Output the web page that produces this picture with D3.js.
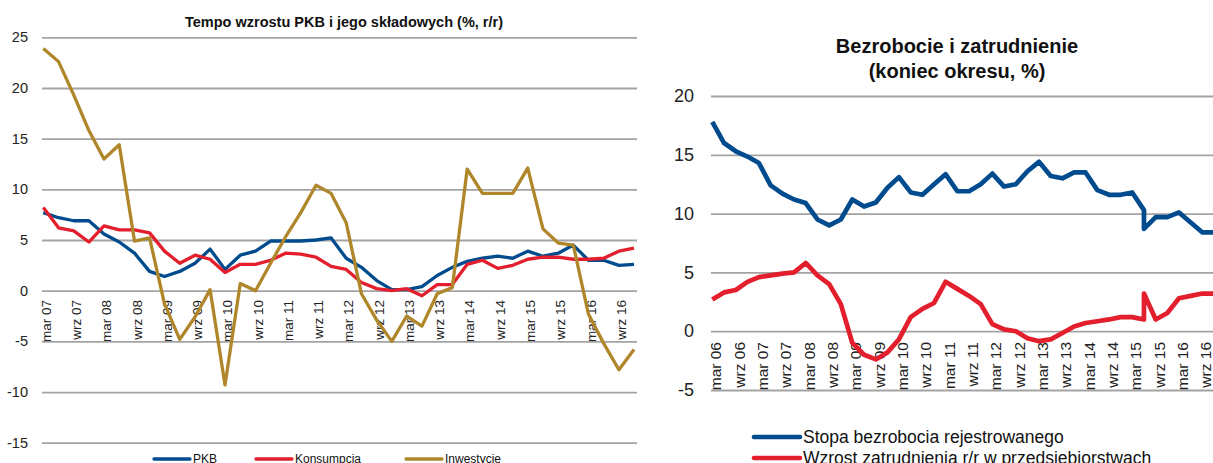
<!DOCTYPE html>
<html>
<head>
<meta charset="utf-8">
<script src="https://cdn.jsdelivr.net/npm/d3@7"></script>
<style>
  body { margin: 0; background: #fff; }
  svg { display: block; font-family: 'Liberation Sans', Arial, sans-serif; }
  .grid line { stroke: #a3a3a3; stroke-width: 1.8; }
  .grid text, .xlab text { fill: #222; }
</style>
</head>
<body>
<svg width="1213" height="463"></svg>
<script>
// --- left chart: GDP and its components, % y/y, quarterly
const gdpPeriods = ['2007-03','2007-06','2007-09','2007-12','2008-03','2008-06','2008-09','2008-12',
  '2009-03','2009-06','2009-09','2009-12','2010-03','2010-06','2010-09','2010-12',
  '2011-03','2011-06','2011-09','2011-12','2012-03','2012-06','2012-09','2012-12',
  '2013-03','2013-06','2013-09','2013-12','2014-03','2014-06','2014-09','2014-12',
  '2015-03','2015-06','2015-09','2015-12','2016-03','2016-06','2016-09','2016-12'];
const gdpLabels = ['mar 07','wrz 07','mar 08','wrz 08','mar 09','wrz 09','mar 10','wrz 10','mar 11','wrz 11',
  'mar 12','wrz 12','mar 13','wrz 13','mar 14','wrz 14','mar 15','wrz 15','mar 16','wrz 16'];
const pkb = [7.7,7.2,6.9,6.9,5.6,4.8,3.7,1.9,1.4,1.9,2.7,4.1,2.1,3.5,
  3.9,4.9,4.9,4.9,5.0,5.2,3.2,2.3,1.0,0.1,0.1,0.4,
  1.5,2.3,2.9,3.2,3.4,3.2,3.9,3.4,3.7,4.5,3.0,3.0,2.5,2.6];
const konsumpcja = [8.2,6.2,5.9,4.8,6.4,6.0,6.0,5.7,3.9,2.7,3.5,3.1,1.8,2.6,
  2.6,3.0,3.7,3.6,3.3,2.4,2.1,0.8,0.2,0.0,0.2,-0.5,
  0.6,0.6,2.6,3.0,2.2,2.5,3.1,3.3,3.3,3.1,3.1,3.2,3.9,4.2];
const inwestycje = [23.9,22.6,19.3,15.8,13.0,14.4,4.9,5.2,-1.3,-4.8,-2.6,0.1,-9.3,0.7,
  0.0,2.7,5.3,7.7,10.4,9.6,6.7,-0.3,-2.9,-5.0,-2.5,-3.5,
  -0.3,0.3,12.0,9.6,9.6,9.6,12.1,6.1,4.7,4.5,-2.3,-5.2,-7.8,-5.8];
const leftTicks = [-15,-10,-5,0,5,10,15,20,25];

// --- right chart: unemployment and employment, end of period, %
// jun 15 appears twice (break in the series)
const labPeriods = ['2006-03','2006-06','2006-09','2006-12','2007-03','2007-06','2007-09','2007-12',
  '2008-03','2008-06','2008-09','2008-12','2009-03','2009-06','2009-09','2009-12',
  '2010-03','2010-06','2010-09','2010-12','2011-03','2011-06','2011-09','2011-12',
  '2012-03','2012-06','2012-09','2012-12','2013-03','2013-06','2013-09','2013-12',
  '2014-03','2014-06','2014-09','2014-12','2015-03','2015-06','2015-06','2015-09','2015-12',
  '2016-03','2016-06','2016-09','2016-12'];
const labLabels = ['mar 06','wrz 06','mar 07','wrz 07','mar 08','wrz 08','mar 09','wrz 09','mar 10','wrz 10',
  'mar 11','wrz 11','mar 12','wrz 12','mar 13','wrz 13','mar 14','wrz 14','mar 15','wrz 15','mar 16','wrz 16'];
const stopaBezrobocia = [17.8,16.0,15.3,14.85,14.3,12.4,11.7,11.2,10.9,9.5,9.0,9.5,
  11.2,10.6,10.95,12.2,13.1,11.8,11.6,12.5,13.35,11.9,11.9,12.5,13.4,12.3,12.5,13.6,
  14.4,13.2,13.0,13.5,13.5,12.0,11.6,11.6,11.8,10.3,8.7,
  9.7,9.7,10.1,9.25,8.4,8.4];
const wzrostZatrudnienia = [2.7,3.3,3.5,4.2,4.6,4.75,4.9,5.0,5.8,4.75,4.0,2.3,
  -1.0,-2.0,-2.4,-1.8,-0.7,1.2,1.9,2.4,4.2,3.6,3.0,2.3,0.6,0.15,0.0,-0.6,
  -0.85,-0.7,-0.15,0.4,0.7,0.85,1.0,1.2,1.2,1.0,3.2,
  1.0,1.55,2.8,3.0,3.2,3.2];
const rightTicks = [-5,0,5,10,15,20];

const BLUE = '#004b8d', RED = '#e41f2d', GOLD = '#b0862a';
const parse = d3.timeParse('%Y-%m');
const svg = d3.select('svg');

function drawPanel(o) {
  const dates = o.periods.map(parse);
  const x = d3.scaleTime().domain(d3.extent(dates)).range(o.xRange);
  const y = d3.scaleLinear().domain(o.yDomain).range(o.yRange);
  const g = svg.append('g');

  // gridlines + value labels (plain hyphen for negatives, like the original)
  g.append('g')
    .attr('class', 'grid')
    .attr('transform', `translate(${o.gridX[0]},0)`)
    .call(d3.axisLeft(y).tickValues(o.yTicks).tickFormat(d => String(d))
      .tickSize(-(o.gridX[1] - o.gridX[0])).tickPadding(o.tickPad))
    .call(a => a.select('.domain').remove())
    .selectAll('text')
    .style('font-size', o.yFont + 'px')
    .attr('font-family', null);

  const tickDates = Array.from(new Set(o.periods)).filter((d, i) => i % 2 === 0).map(parse);
  g.append('g')
    .attr('class', 'xlab')
    .attr('transform', `translate(0,${o.labTop})`)
    .call(d3.axisBottom(x).tickValues(tickDates).tickSize(0).tickFormat((d, i) => o.labels[i]))
    .call(a => a.select('.domain').remove())
    .selectAll('text')
    .attr('font-family', null)
    .style('font-size', o.xFont + 'px')
    .attr('transform', 'rotate(-90)')
    .attr('text-anchor', 'end')
    .attr('x', 0)
    .attr('y', o.labShift)
    .attr('dy', '0.35em');

  const line = d3.line().x((d, i) => x(dates[i])).y(d => y(d));
  o.series.forEach(s => {
    g.append('path')
      .attr('d', line(s.values))
      .attr('fill', 'none')
      .attr('stroke', s.color)
      .attr('stroke-width', o.lineWidth)
      .attr('stroke-linejoin', 'round');
  });

  g.append('text')
    .selectAll('tspan')
    .data(o.title)
    .join('tspan')
    .attr('x', o.titleX)
    .attr('y', (d, i) => o.titleY + i * o.titleLead)
    .attr('text-anchor', 'middle')
    .style('font-size', o.titleFont + 'px')
    .style('font-weight', 'bold')
    .attr('fill', '#111')
    .text(d => d);

  o.series.forEach((s, i) => {
    const lg = o.legend[i];
    g.append('line')
      .attr('x1', lg.x).attr('x2', lg.x + o.swatch)
      .attr('y1', lg.y).attr('y2', lg.y)
      .attr('stroke', s.color)
      .attr('stroke-width', o.lineWidth)
      .attr('stroke-linecap', 'round');
    g.append('text')
      .attr('x', lg.x + o.swatch + 3)
      .attr('y', lg.y)
      .attr('dy', '0.36em')
      .style('font-size', o.legendFont + 'px')
      .attr('fill', '#111')
      .text(s.name);
  });
}

drawPanel({
  periods: gdpPeriods, labels: gdpLabels,
  xRange: [43.3, 634], yDomain: [-15, 25], yRange: [442.7, 37.3], yTicks: leftTicks,
  gridX: [42, 637], tickPad: 14, yFont: 14.5, xFont: 13.5, labTop: 300, labShift: 2,
  lineWidth: 3.3,
  series: [
    { name: 'PKB', values: pkb, color: BLUE },
    { name: 'Konsumpcja', values: konsumpcja, color: RED },
    { name: 'Inwestycje', values: inwestycje, color: GOLD }
  ],
  title: ['Tempo wzrostu PKB i jego składowych (%, r/r)'], titleX: 344, titleY: 27, titleLead: 0, titleFont: 14.5,
  legend: [{ x: 154, y: 459 }, { x: 256, y: 459 }, { x: 406, y: 459 }], swatch: 36, legendFont: 12
});

drawPanel({
  periods: labPeriods, labels: labLabels,
  xRange: [712.3, 1214.1], yDomain: [-5, 20], yRange: [390, 96], yTicks: rightTicks,
  gridX: [711, 1213], tickPad: 17, yFont: 18, xFont: 15.5, labTop: 342, labShift: 3,
  lineWidth: 4.7,
  series: [
    { name: 'Stopa bezrobocia rejestrowanego', values: stopaBezrobocia, color: BLUE },
    { name: 'Wzrost zatrudnienia r/r w przedsiębiorstwach', values: wzrostZatrudnienia, color: RED }
  ],
  title: ['Bezrobocie  i zatrudnienie', '(koniec okresu, %)'], titleX: 957, titleY: 53, titleLead: 25, titleFont: 20,
  legend: [{ x: 754, y: 437 }, { x: 754, y: 458 }], swatch: 46, legendFont: 17.5
});
</script>
</body>
</html>
